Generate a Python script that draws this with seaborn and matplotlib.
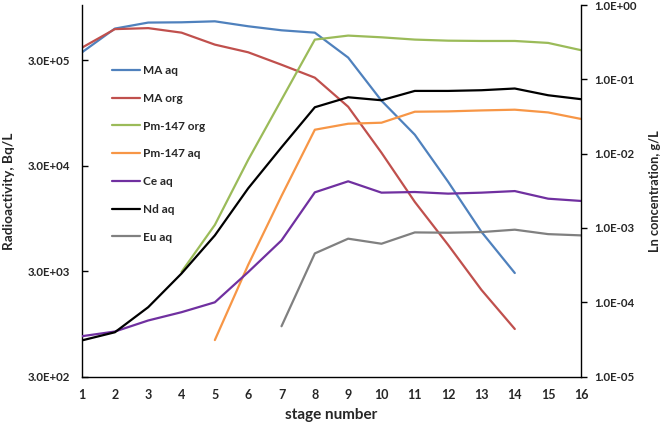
import numpy as np
import pandas as pd
import matplotlib
matplotlib.use("Agg")
import matplotlib.pyplot as plt
import seaborn as sns

# stage numbers
stages = list(range(1, 17))

# left axis series (radioactivity, Bq/L)
ma_aq = [354000, 599000, 683000, 687000, 702000, 630000, 577000, 548000,
         318000, 124000, 59000, 21100, 7070, 2880]
ma_org = [393000, 592000, 605000, 548000, 422000, 357000, 272000, 205000,
          108700, 39800, 13600, 5320, 1990, 848]
pm_org_stages = list(range(4, 17))
pm_org = [2950, 8240, 34100, 126800, 471000, 514000, 495000, 471000,
          460000, 457000, 457000, 438000, 373000]
pm_aq_stages = list(range(5, 17))
pm_aq = [666, 3440, 15500, 65800, 75000, 76700, 97500, 98200, 100300,
         101900, 96000, 83100]

# right axis series (Ln concentration, g/L)
ce_aq = [3.49e-5, 4.04e-5, 5.69e-5, 7.36e-5, 1.0e-4, 2.55e-4, 6.81e-4, 3.02e-3,
         4.25e-3, 2.99e-3, 3.05e-3, 2.90e-3, 2.99e-3, 3.14e-3, 2.48e-3, 2.31e-3]
nd_aq = [3.06e-5, 3.95e-5, 8.59e-5, 2.44e-4, 7.95e-4, 3.42e-3, 1.22e-2, 4.22e-2,
         5.75e-2, 5.24e-2, 7.0e-2, 7.0e-2, 7.15e-2, 7.54e-2, 6.12e-2, 5.41e-2]
eu_stages = list(range(7, 17))
eu_aq = [4.76e-5, 4.55e-4, 7.18e-4, 6.14e-4, 8.72e-4, 8.64e-4, 8.81e-4,
         9.49e-4, 8.27e-4, 7.95e-4]

left_ticks = [3e2, 3e3, 3e4, 3e5]
left_labels = ["3.0E+02", "3.0E+03", "3.0E+04", "3.0E+05"]
right_ticks = [1e-5, 1e-4, 1e-3, 1e-2, 1e-1, 1e0]
right_labels = ["1.0E-05", "1.0E-04", "1.0E-03", "1.0E-02", "1.0E-01", "1.0E+00"]

sns.set_theme(style="white")
plt.rcParams['font.family'] = ['Lato', 'DejaVu Sans']
plt.rcParams['font.weight'] = 'bold'

fig, ax = plt.subplots(figsize=(6.63, 4.26), dpi=100)
fig.subplots_adjust(left=0.123, right=0.877, top=0.988, bottom=0.116)
ax2 = ax.twinx()

lw = 1.6
sns.lineplot(x=stages[:14], y=ma_aq, ax=ax, color="#4F81BD", lw=lw, label="MA aq", legend=False)
sns.lineplot(x=stages[:14], y=ma_org, ax=ax, color="#C0504D", lw=lw, label="MA org", legend=False)
sns.lineplot(x=pm_org_stages, y=pm_org, ax=ax, color="#9BBB59", lw=lw, label="Pm-147 org", legend=False)
sns.lineplot(x=pm_aq_stages, y=pm_aq, ax=ax, color="#F79646", lw=lw, label="Pm-147 aq", legend=False)
sns.lineplot(x=stages, y=ce_aq, ax=ax2, color="#7030A0", lw=lw, label="Ce aq", legend=False)
sns.lineplot(x=stages, y=nd_aq, ax=ax2, color="#000000", lw=lw, label="Nd aq", legend=False)
sns.lineplot(x=eu_stages, y=eu_aq, ax=ax2, color="#808080", lw=lw, label="Eu aq", legend=False)

ax.set_yscale("log")
ax.set_ylim(300, 1e6)
ax2.set_yscale("log")
ax2.set_ylim(1e-5, 1)
ax.set_xlim(1, 16)

ax.set_xticks(stages)
ax.set_xticklabels([str(s) for s in stages], fontsize=9, fontweight='bold')
ax.set_yticks(left_ticks)
ax.set_yticklabels(left_labels, fontsize=8.3, fontweight='bold')
ax.yaxis.set_minor_locator(matplotlib.ticker.NullLocator())
ax2.set_yticks(right_ticks)
ax2.set_yticklabels(right_labels, fontsize=8.3, fontweight='bold')
ax2.yaxis.set_minor_locator(matplotlib.ticker.NullLocator())

ax.tick_params(axis='x', direction='in', length=4, width=1, color='black', pad=9)
ax.tick_params(axis='y', direction='in', length=4, width=1, color='black', pad=8)
ax2.tick_params(axis='y', direction='out', length=4, width=1, color='black', pad=5)

for a in (ax, ax2):
    a.spines['top'].set_visible(False)
    for s in ('left', 'right', 'bottom'):
        a.spines[s].set_color('black')
        a.spines[s].set_linewidth(1)
ax.spines['right'].set_visible(False)
ax2.spines['left'].set_visible(False)
ax2.spines['bottom'].set_visible(False)

ax.set_xlabel("stage number", fontsize=11, fontweight='bold', labelpad=5)
ax.set_ylabel("Radioactivity, Bq/L", fontsize=9.8, fontweight='bold', labelpad=9)
ax2.set_ylabel("Ln concentration, g/L", fontsize=9.2, fontweight='bold', labelpad=9)

h1, l1 = ax.get_legend_handles_labels()
h2, l2 = ax2.get_legend_handles_labels()
leg = ax2.legend(h1 + h2, l1 + l2, loc='upper left',
                 bbox_to_anchor=(112 / 663, 1 - 65 / 426), bbox_transform=fig.transFigure,
                 frameon=False, fontsize=8.5, handlelength=2.4, handletextpad=0.2,
                 labelspacing=1.42, borderpad=0, borderaxespad=0)
for t in leg.get_texts():
    t.set_fontweight('bold')

fig.savefig("out.png", dpi=100)
